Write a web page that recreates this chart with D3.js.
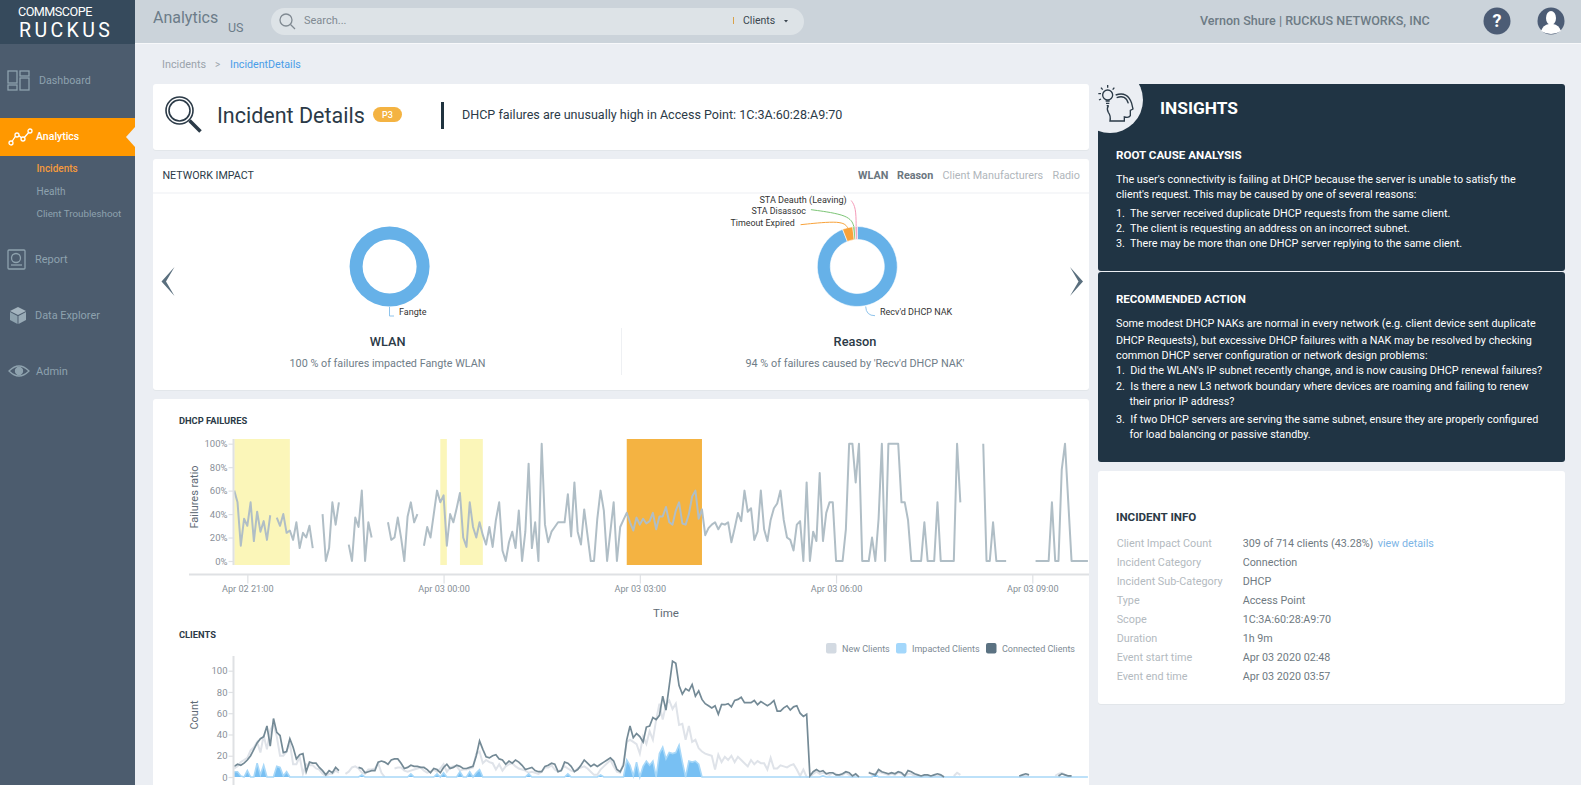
<!DOCTYPE html>
<html>
<head>
<meta charset="utf-8">
<title>Incident Details</title>
<script src="https://cdn.jsdelivr.net/npm/d3@7"></script>
<style>
    html, body { margin: 0; padding: 0; background: #ebeef3; overflow: hidden; }
    svg { display: block; font-family: Roboto, sans-serif; }
</style>
</head>
<body>
<div id="container"></div>
<script>
const width = 1581;
const height = 785;

// one value per 3 minutes, starting Apr 02 20:48
const failureRatio = [
    60,50,13,36,30,50,17,42,25,34,18,39,null,37,30,40,24,26,18,33,11,24,20,30,11,null,null,
    40,0,11,50,31,50,null,null,14,0,37,29,60,0,33,20,null,null,null,null,
    33,18,20,37,20,0,38,50,33,40,null,
    13,29,20,40,60,50,56,13,40,33,45,58,20,12,50,29,20,33,22,14,29,
    12,35,50,9,0,16,25,11,43,0,25,83,11,33,0,100,31,16,25,29,33,33,33,57,21,67,25,14,44,22,0,0,36,60,43,0,25,50,0,
    29,35,41,33,26,37,31,36,32,34,41,27,38,38,46,33,31,43,50,32,31,40,55,60,36,44,22,28,31,33,27,32,31,33,16,28,41,34,60,42,45,18,25,60,27,17,35,45,49,60,35,20,18,
    9,31,34,0,67,0,25,17,75,17,41,50,50,0,0,0,27,100,100,67,100,0,0,0,20,0,36,100,0,100,100,100,100,50,50,35,0,0,0,0,33,0,0,0,50,0,0,0,0,0,100,50,
    null,null,null,null,null,null,100,0,0,33,0,0,0,0,
    null,null,null,null,null,null,null,null,0,0,0,0,0,50,0,0,78,100,50,0,0,0,0,0,0
];

const connectedClients = [
    10,12,11,13,16,20,26,32,36,38,48,29,55,42,39,23,24,36,28,17,21,22,5,14,13,13,9,6,2,6,4,9,6,
    null,null,null,null,null,
    9,8,4,5,6,6,14,15,14,12,16,17,17,13,8,9,11,10,10,9,9,7,4,8,7,4,9,12,8,9,11,10,8,8,9,10,20,34,26,19,18,
    20,21,17,16,12,15,13,16,14,11,7,8,9,6,5,5,10,11,13,12,5,6,14,13,10,5,7,11,16,13,10,12,10,12,14,16,18,15,7,5,11,
    35,48,37,41,38,33,47,48,56,54,58,76,63,86,109,107,86,78,83,81,87,76,81,73,69,67,65,67,59,68,68,69,66,72,73,75,70,70,70,72,68,71,69,67,69,72,62,62,65,67,63,66,67,60,57,59,
    1,5,7,5,6,3,4,4,2,2,3,5,4,1,3,0,null,null,4,3,2,7,5,4,3,4,3,5,4,1,6,5,3,2,1,2,2,1,2,3,2,0,
    null,null,null,null,null,null,null,null,null,null,null,null,null,null,null,null,null,null,null,null,null,null,
    1,2,3,2,null,null,null,null,null,null,null,null,1,3,2,1,1
];

const newClients = [
    8,10,14,16,18,25,28,33,23,39,26,44,50,38,20,20,24,32,12,12,19,3,12,11,11,8,7,3,1,3,3,6,4,null,
    3,5,9,10,8,4,3,7,7,8,13,4,0,null,null,
    8,9,9,6,5,6,7,8,9,6,4,5,7,5,8,12,5,9,10,10,6,7,7,8,9,22,24,13,16,14,
    13,7,12,6,10,12,13,10,8,7,6,4,5,4,3,5,9,9,11,7,5,7,10,8,6,5,8,9,10,8,5,2,2,7,10,13,16,10,5,4,13,
    33,35,33,31,22,38,31,43,35,54,69,54,68,72,64,69,49,50,35,48,33,35,27,24,22,21,20,7,21,14,19,16,20,14,19,16,13,10,16,12,15,13,13,7,18,8,8,11,10,9,11,12,7,1,7,0,
    0,3,5,3,4,3,2,4,3,1,2,4,2,0,2,0,null,null,5,2,3,5,4,3,2,3,2,4,3,1,3,3,1,1,0,1,1,0,1,1,1,0,null,null,1,4,2,
    null,null,null,null,null,null,null,null,null,null,null,null,null,null,null,null,null,
    0,1,1,1,null,null,null,null,null,null,null,1,3,4,2,1,1
];

const impactedClients = [
    5,5,1,0,6,0,0,13,2,11,0,0,0,10,9,1,5,0,0,0,
    0,0,0,0,0,0,0,0,0,0,0,0,0,0,0,0,0,0,0,2,
    0,0,0,0,0,0,0,0,0,0,0,0,0,0,3,0,0,0,0,0,
    0,0,3,0,4,0,0,0,0,5,0,0,5,0,4,7,0,0,0,0,
    0,0,0,0,0,0,0,0,0,0,3,0,0,0,0,0,0,0,0,0,
    0,0,3,0,0,0,0,0,0,0,0,0,2,0,0,0,0,0,0,0,
    16,11,1,14,0,10,15,11,15,0,22,28,17,23,22,23,30,14,0,15,
    14,15,12,0,0,0,0,0,0,0,0,0,0,0,0,0,0,0,0,0,
    0,0,0,0,0,0,0,0,0,0,0,0,0,0,0,0,0,0,0,0,
    1,0,0,0,0,0,0,0,0,0,0,0,0,0,0,0,3,0,0,0,
    0,0,0,0,0,0,0,0,0,0,0,0,0,0,0,0,0,0,0,0,
    0,0,0,0,0,0,0,0,0,0,0,0,0,0,0,0,0,0,0,0,
    0,0,0,0,0,0,0,0,0,0,0,0,0,0,0,0,0,0,0,0,
    0,0
];

const minorEvents = [['2020-04-02T20:48', '2020-04-02T21:39'], ['2020-04-02T23:57', '2020-04-03T00:03'], ['2020-04-03T00:15', '2020-04-03T00:36']];
const mainEvent = ['2020-04-03T02:48', '2020-04-03T03:57'];

const failureTicks = [0, 20, 40, 60, 80, 100];
const clientTicks = [0, 20, 40, 60, 80, 100];

const wlanNames = ['Fangte'];
const wlanValues = [100];
const reasonNames = ["Recv'd DHCP NAK", 'Timeout Expired', 'STA Disassoc', 'STA Deauth (Leaving)'];
const reasonValues = [94, 4.2, 0.9, 0.9];
const reasonColors = ['#66b1e8', '#f8a23a', '#7cc576', '#f59ab8'];

const legendNames = ['New Clients', 'Impacted Clients', 'Connected Clients'];
const legendColors = ['#d3dae2', '#a3d7fb', '#5b7282'];

const rootCauseLines = [
    "The user's connectivity is failing at DHCP because the server is unable to satisfy the",
    "client's request. This may be caused by one of several reasons:",
    '1.  The server received duplicate DHCP requests from the same client.',
    '2.  The client is requesting an address on an incorrect subnet.',
    '3.  There may be more than one DHCP server replying to the same client.'
];
const actionLines = [
    'Some modest DHCP NAKs are normal in every network (e.g. client device sent duplicate',
    'DHCP Requests), but excessive DHCP failures with a NAK may be resolved by checking',
    'common DHCP server configuration or network design problems:',
    "1.  Did the WLAN's IP subnet recently change, and is now causing DHCP renewal failures?",
    '2.  Is there a new L3 network boundary where devices are roaming and failing to renew',
    '     their prior IP address?',
    '3.  If two DHCP servers are serving the same subnet, ensure they are properly configured',
    '     for load balancing or passive standby.'
];
const infoLabels = ['Client Impact Count', 'Incident Category', 'Incident Sub-Category', 'Type', 'Scope', 'Duration', 'Event start time', 'Event end time'];
const infoValues = ['309 of 714 clients (43.28%)', 'Connection', 'DHCP', 'Access Point', '1C:3A:60:28:A9:70', '1h 9m', 'Apr 03 2020 02:48', 'Apr 03 2020 03:57'];

const svg = d3.select('#container').append('svg')
    .attr('width', width)
    .attr('height', height)
    .attr('viewBox', `0 0 ${width} ${height}`);

function rect(x, y, w, h, fill, r) {
    return svg.append('rect').attr('x', x).attr('y', y).attr('width', w).attr('height', h)
        .attr('fill', fill).attr('rx', r || 0);
}

function card(x, y, w, h) {
    rect(x, y + 1, w, h, '#e2e6ea', 3);
    return rect(x, y, w, h, '#fff', 3);
}

// y is the vertical centre of the text
function txt(s, x, y, size, color, opts) {
    opts = opts || {};
    return svg.append('text').attr('x', x).attr('y', y)
        .attr('dy', '0.35em')
        .attr('font-size', size)
        .attr('fill', color)
        .attr('font-weight', opts.weight || 400)
        .attr('text-anchor', opts.anchor || 'start')
        .attr('letter-spacing', opts.spacing || null)
        .attr('xml:space', 'preserve')
        .text(s);
}

function icon(transform, stroke) {
    return svg.append('g').attr('transform', transform)
        .attr('fill', 'none').attr('stroke', stroke).attr('stroke-width', 1.3);
}

function drawChrome() {
    rect(0, 0, width, height, '#ebeef3');

    // header
    rect(0, 0, width, 43, '#cbd3da');
    rect(0, 43, width, 1, '#f7f8fa');
    rect(0, 0, 135, height, '#4c5c6e');
    rect(0, 0, 135, 44, '#364a5c');
    txt('COMMSCOPE', 18, 11.5, 12.6, '#fff', { spacing: -0.5 });
    txt('RUCKUS', 19, 30, 19.5, '#fff', { spacing: 3.4 });
    txt('Analytics', 153, 17, 16, '#6c7c89');
    txt('US', 228, 28, 12.5, '#6c7c89');

    rect(271, 8, 533, 27, '#dde3e7', 13.5);
    let g = icon('translate(286,20)', '#808a92');
    g.append('circle').attr('r', 6);
    g.append('line').attr('x1', 4.5).attr('y1', 4.5).attr('x2', 9).attr('y2', 9);
    txt('Search...', 304, 20, 11, '#808a92');
    rect(733, 17, 1, 7, '#d9a24a');
    txt('Clients', 743, 20.5, 10.5, '#3b4650');
    svg.append('path').attr('d', 'M784,20 h4 l-2,2.5 z').attr('fill', '#3b4650');

    txt('Vernon Shure | RUCKUS NETWORKS, INC', 1200, 21, 12.55, '#6d7b85', { weight: 500 });
    svg.append('circle').attr('cx', 1497).attr('cy', 21).attr('r', 13.5).attr('fill', '#4c5c75');
    txt('?', 1497, 21, 18, '#fff', { weight: 700, anchor: 'middle' });
    svg.append('circle').attr('cx', 1551).attr('cy', 21).attr('r', 13.5).attr('fill', '#4c5c75');
    svg.append('ellipse').attr('cx', 1551).attr('cy', 18).attr('rx', 5).attr('ry', 7).attr('fill', '#fff');
    svg.append('path').attr('d', 'M1541,31 q2,-6 8,-7 h4 q6,1 8,7 q-10,6 -20,0 z').attr('fill', '#fff');

    // sidebar
    rect(0, 118, 135, 38, '#ff9800');
    svg.append('path').attr('d', 'M135,127 L126,137 L135,147 Z').attr('fill', '#ebeef3');
    txt('Dashboard', 39, 80, 10.7, '#8ea2ae');
    txt('Analytics', 36, 136, 10.5, '#fff', { weight: 500 });
    txt('Incidents', 36.5, 168.5, 10, '#f59a3c', { weight: 500 });
    txt('Health', 36.5, 191, 10, '#8ea2ae');
    txt('Client Troubleshoot', 36.5, 213.5, 9.8, '#8ea2ae');
    txt('Report', 35, 259, 11, '#8ea2ae');
    txt('Data Explorer', 35, 315, 10.9, '#8ea2ae');
    txt('Admin', 36, 371, 11, '#8ea2ae');

    g = icon('translate(8,70)', '#8ea2ae');
    [[0, 1, 9, 12], [12, 1, 9, 5], [0, 15, 9, 5], [12, 8, 9, 12]].forEach(d => {
        g.append('rect').attr('x', d[0]).attr('y', d[1]).attr('width', d[2]).attr('height', d[3]);
    });
    g = icon('translate(8,128)', '#fff');
    g.append('path').attr('d', 'M3,15 L9,6 L15,11 L22,3');
    [[3, 15], [9, 7], [15, 11], [22, 3]].forEach(d => {
        g.append('circle').attr('cx', d[0]).attr('cy', d[1]).attr('r', 2).attr('fill', '#ff9800');
    });
    g = icon('translate(8,250)', '#8ea2ae');
    g.append('rect').attr('x', 0).attr('y', 0).attr('width', 17).attr('height', 19).attr('rx', 1);
    g.append('circle').attr('cx', 8).attr('cy', 8).attr('r', 4.5);
    g.append('path').attr('d', 'M3,15 h11');
    g = svg.append('g').attr('transform', 'translate(10,307)');
    g.append('path').attr('d', 'M8,0 L16,4 L8,8 L0,4 Z').attr('fill', '#a4b4bf');
    g.append('path').attr('d', 'M0,5 L7.5,9 V17 L0,13 Z').attr('fill', '#8ea2ae');
    g.append('path').attr('d', 'M16,5 L8.5,9 V17 L16,13 Z').attr('fill', '#98aab6');
    g = icon('translate(9,364)', '#8ea2ae');
    g.append('path').attr('d', 'M0,7 Q10,-3 20,7 Q10,17 0,7 Z');
    g.append('circle').attr('cx', 10).attr('cy', 7).attr('r', 3.5).attr('fill', '#8ea2ae');

    // breadcrumb
    txt('Incidents', 162, 64, 10.8, '#9aa3ab');
    txt('>', 215, 64, 10, '#9aa3ab');
    txt('IncidentDetails', 230, 64, 10.7, '#4a9de8');
}

function drawTitleCard() {
    card(153, 84, 936, 66);
    const g = icon('translate(179.5,110.5)', '#2b3a47');
    g.attr('stroke-width', 1.6);
    g.append('circle').attr('r', 13.5);
    g.append('circle').attr('r', 10.5);
    g.append('line').attr('x1', 10).attr('y1', 10).attr('x2', 21).attr('y2', 21).attr('stroke-width', 3.5);
    txt('Incident Details', 217, 115, 21.5, '#2b3a47');
    rect(373, 107, 29, 15, '#f4b342', 7.5);
    txt('P3', 387.5, 114.5, 9, '#fff', { weight: 500, anchor: 'middle' });
    rect(441, 102, 3, 27, '#20333f');
    txt('DHCP failures are unusually high in Access Point: 1C:3A:60:28:A9:70', 462, 115, 12.55, '#2b3a47');
}

function drawDonut(cx, names, values, colors) {
    const pie = d3.pie().sort(null).value(d => d)(values);
    const arc = d3.arc().innerRadius(27).outerRadius(40);
    const g = svg.append('g').attr('transform', `translate(${cx},266.5)`);
    g.selectAll('path').data(pie).join('path')
        .attr('d', arc)
        .attr('fill', (d, i) => colors[i])
        .attr('stroke', '#fff')
        .attr('stroke-width', values.length > 1 ? 0.6 : 0);
    return pie;
}

// leader runs from the rim of the slice through two offsets from the rim
function leader(cx, slice, elbow, end, color) {
    const mid = (slice.startAngle + slice.endAngle) / 2;
    const sx = cx + 40 * Math.sin(mid);
    const sy = 266.5 - 40 * Math.cos(mid);
    const pts = [[sx, sy], [sx + elbow[0], sy + elbow[1]], [sx + end[0], sy + end[1]]];
    svg.append('path')
        .attr('d', d3.line().curve(d3.curveBundle.beta(0.9))(pts))
        .attr('fill', 'none')
        .attr('stroke', color)
        .attr('stroke-width', 1);
}

function drawImpactCard() {
    card(153, 159, 936, 231);
    txt('NETWORK IMPACT', 162.5, 175, 10.7, '#2b3a47');
    rect(153, 192.5, 936, 1, '#eef0f3');
    txt('WLAN', 858, 175, 10.8, '#6b7680', { weight: 700 });
    txt('Reason', 897, 175, 10.8, '#6b7680', { weight: 700 });
    txt('Client Manufacturers', 942.5, 175, 10.8, '#b0b6bb');
    txt('Radio', 1052.5, 175, 10.8, '#b0b6bb');

    svg.append('path').attr('d', 'M174.5,267 L161.5,281.5 L174.5,296 L166,281.5 Z').attr('fill', '#5a6f7e');
    svg.append('path').attr('d', 'M1070,267 L1083,281.5 L1070,296 L1078.5,281.5 Z').attr('fill', '#5a6f7e');

    drawDonut(389.6, wlanNames, wlanValues, ['#66b1e8']);
    svg.append('path').attr('d', 'M389.5,307 V316 H394').attr('fill', 'none').attr('stroke', '#8fc4ec');
    txt(wlanNames[0], 399, 312, 9, '#333');

    const reason = drawDonut(857.3, reasonNames, reasonValues, reasonColors);
    svg.append('path').attr('d', 'M865.7,306.5 Q866,315.7 875,315.7').attr('fill', 'none').attr('stroke', '#8fc4ec');
    leader(857.3, reason[1], [-3, -8], [-47, -3], '#f8a23a');
    leader(857.3, reason[2], [-2, -12], [-43, -17], '#7cc576');
    leader(857.3, reason[3], [0, -20], [-5, -26], '#f59ab8');
    txt(reasonNames[0], 880, 312, 9, '#333');
    txt(reasonNames[1], 794.7, 222.7, 8.9, '#333', { anchor: 'end' });
    txt(reasonNames[2], 806, 210.7, 8.9, '#333', { anchor: 'end' });
    txt(reasonNames[3], 846.7, 199.7, 9.1, '#333', { anchor: 'end' });

    txt('WLAN', 387.7, 341.7, 12.8, '#2b3a47', { weight: 500, anchor: 'middle' });
    txt('100 % of failures impacted Fangte WLAN', 387.5, 363.3, 10.8, '#6f7d88', { anchor: 'middle' });
    txt('Reason', 855, 341.7, 12.8, '#2b3a47', { weight: 500, anchor: 'middle' });
    txt("94 % of failures caused by 'Recv'd DHCP NAK'", 855, 363.3, 10.85, '#6f7d88', { anchor: 'middle' });
    rect(621, 328, 1, 47, '#eef0f3');
}

function drawCharts() {
    card(153, 399, 936, 400);

    const start = new Date(2020, 3, 2, 20, 48);
    const time = i => d3.timeMinute.offset(start, i * 3);
    const x = d3.scaleTime()
        .domain([start, new Date(2020, 3, 3, 9, 52)])
        .range([234.25, 1089]);

    // DHCP failures
    txt('DHCP FAILURES', 179, 420.5, 9.3, '#2b3a47', { weight: 700 });

    const yRatio = d3.scaleLinear().domain([0, 100]).range([561, 443.7]);

    minorEvents.forEach(d => {
        const a = x(new Date(d[0])), b = x(new Date(d[1]));
        rect(a, 439, b - a, 126, '#fbf6b9');
    });
    const ma = x(new Date(mainEvent[0])), mb = x(new Date(mainEvent[1]));
    rect(ma, 439, mb - ma, 126, '#f4b342');

    svg.append('path')
        .attr('d', d3.line().defined(d => d != null).x((d, i) => x(time(i))).y(d => yRatio(d))(failureRatio))
        .attr('fill', 'none')
        .attr('stroke', '#b0bec6')
        .attr('stroke-width', 2)
        .attr('stroke-linejoin', 'round');

    const axisColor = '#dfe1e4';
    const xTicks = d3.timeHour.range(new Date(2020, 3, 2, 21), new Date(2020, 3, 3, 9, 1), 3);
    const xAxis = svg.append('g')
        .attr('transform', 'translate(0,574.5)')
        .call(d3.axisBottom(x).tickValues(xTicks).tickFormat(d3.timeFormat('%b %d %H:%M')).tickSize(9).tickPadding(2));
    xAxis.select('.domain').remove();
    xAxis.selectAll('line').attr('stroke', axisColor).attr('stroke-width', 1.2);
    xAxis.selectAll('text').attr('font-family', 'Roboto').attr('font-size', 9.1).attr('fill', '#858e96');
    rect(189, 573.5, 900, 2, axisColor);

    styleYAxis(svg.append('g').attr('transform', 'translate(233.5,0)')
        .call(d3.axisLeft(yRatio).tickValues(failureTicks).tickFormat(d => d + '%').tickSize(5).tickPadding(1)));
    rect(232.5, 439, 2, 126, axisColor);

    svg.append('text').attr('transform', 'translate(194,497) rotate(-90)')
        .attr('dy', '0.35em').attr('text-anchor', 'middle').attr('font-size', 11).attr('fill', '#5f6b76')
        .text('Failures ratio');
    txt('Time', 666, 613, 11.5, '#5f6b76', { anchor: 'middle' });

    // clients
    txt('CLIENTS', 179, 635, 9.3, '#2b3a47', { weight: 700 });
    const yCount = d3.scaleLinear().domain([0, 100]).range([777, 670.7]);

    const clientLine = d3.line().defined(d => d != null).x((d, i) => x(time(i))).y(d => yCount(d));
    svg.append('path')
        .attr('d', clientLine(newClients))
        .attr('fill', 'none').attr('stroke', '#dfe3e9').attr('stroke-width', 2);
    svg.append('path')
        .attr('d', d3.area().x((d, i) => x(time(i))).y0(yCount(0)).y1(d => yCount(d))(impactedClients))
        .attr('fill', '#78c0f3');
    svg.append('path')
        .attr('d', clientLine(impactedClients))
        .attr('fill', 'none').attr('stroke', '#a8d8f8').attr('stroke-width', 1.6);
    svg.append('path')
        .attr('d', clientLine(connectedClients))
        .attr('fill', 'none').attr('stroke', '#748a96').attr('stroke-width', 1.7);

    styleYAxis(svg.append('g').attr('transform', 'translate(233.5,0)')
        .call(d3.axisLeft(yCount).tickValues(clientTicks).tickSize(5).tickPadding(1)));
    rect(232.5, 656, 2, 129, axisColor);

    svg.append('text').attr('transform', 'translate(194,715) rotate(-90)')
        .attr('dy', '0.35em').attr('text-anchor', 'middle').attr('font-size', 11).attr('fill', '#5f6b76')
        .text('Count');

    const swatchX = [826, 896, 986];
    legendNames.forEach((name, i) => {
        rect(swatchX[i], 643, 10.5, 10.5, legendColors[i], 2);
        txt(name, swatchX[i] + 16, 648.5, 9, '#7d8a94');
    });
}

function styleYAxis(axis) {
    axis.select('.domain').remove();
    axis.selectAll('line').attr('stroke', '#dfe1e4').attr('stroke-width', 1.2);
    axis.selectAll('text').attr('font-family', 'Roboto').attr('font-size', 9.5).attr('fill', '#8a9099');
}

function drawInsights() {
    rect(1098, 84, 467, 187, '#203444', 3);
    rect(1098, 272, 467, 190, '#203444', 3);

    svg.append('clipPath').attr('id', 'panel-clip').append('rect')
        .attr('x', 1098).attr('y', 84).attr('width', 467).attr('height', 187);
    svg.append('circle').attr('cx', 1110).attr('cy', 100).attr('r', 33)
        .attr('fill', '#ebeef3').attr('clip-path', 'url(#panel-clip)');

    const g = icon('translate(1085,75) scale(0.3333)', '#2b3a47');
    g.attr('stroke-width', 4);
    g.append('path').attr('d', 'M92,60 Q128,48 140,85 L144,102 L136,106 L136,122 Q132,130 118,126 L118,138 L75,138 Q78,122 70,112 Q64,102 70,92');
    g.append('path').attr('d', 'M95,68 Q122,58 130,85');
    g.append('circle').attr('cx', 68).attr('cy', 60).attr('r', 15);
    g.append('path').attr('d', 'M62,78 h12 M63,85 h10 M65,92 h6 M68,30 v8 M48,38 l5,6 M88,38 l-5,6 M40,56 h8 M42,75 l6,-3');

    txt('INSIGHTS', 1160, 108, 17.3, '#fff', { weight: 700 });
    txt('ROOT CAUSE ANALYSIS', 1116, 154.5, 11.6, '#fff', { weight: 700 });
    const rootY = [179.5, 194.6, 212.8, 227.9, 243];
    rootCauseLines.forEach((s, i) => txt(s, 1116, rootY[i], 10.8, '#fff'));
    txt('RECOMMENDED ACTION', 1116, 298.5, 11.5, '#fff', { weight: 700 });
    const actionY = [323.7, 339.8, 355, 370.6, 386, 401.3, 419.5, 434.6];
    actionLines.forEach((s, i) => txt(s, 1116, actionY[i], 10.8, '#fff'));
}

function drawInfo() {
    card(1098, 471, 467, 233);
    txt('INCIDENT INFO', 1116, 516.7, 11.6, '#2b3a47', { weight: 700 });
    infoLabels.forEach((label, i) => {
        const y = 543.3 + i * 19;
        txt(label, 1116.7, y, 10.8, '#b3bac0');
        txt(infoValues[i], 1242.7, y, 10.75, '#6f7a82');
    });
    txt('view details', 1377.7, 543.3, 10.75, '#7db5e6');
}

drawChrome();
drawTitleCard();
drawImpactCard();
drawCharts();
drawInsights();
drawInfo();
</script>
</body>
</html>
